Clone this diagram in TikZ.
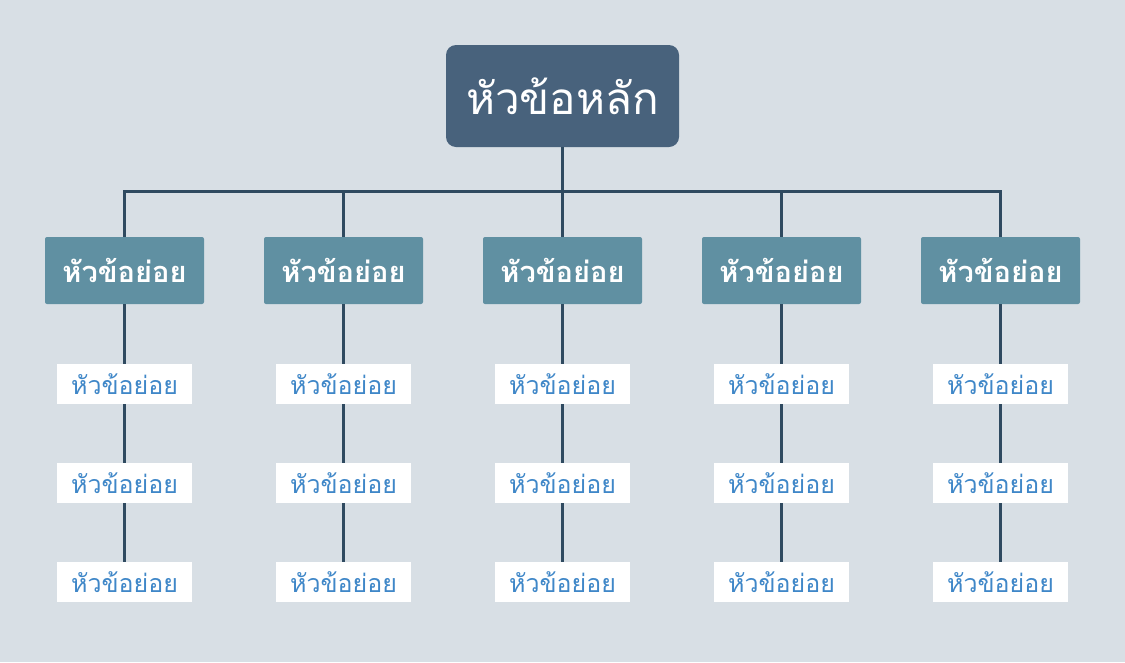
\documentclass[tikz,border=0pt]{standalone}
\usepackage{fontspec}
\newfontfamily\thaifont[Script=Thai]{Loma}
\definecolor{bg}{HTML}{D8DFE5}
\definecolor{topc}{HTML}{48627C}
\definecolor{subc}{HTML}{6090A2}
\definecolor{linec}{HTML}{2F4A60}
\definecolor{leaft}{HTML}{3F87C8}
\tikzset{
  topbox/.style={fill=topc, rounded corners=10pt, minimum width=233pt, minimum height=102pt, text=white, font=\thaifont\fontsize{44}{48}\selectfont, inner sep=0pt},
  subbox/.style={fill=subc, rounded corners=2pt, minimum width=159pt, minimum height=67pt, text=white, font=\thaifont\bfseries\fontsize{29}{33}\selectfont, inner sep=0pt},
  leafbox/.style={fill=white, minimum width=135pt, minimum height=40pt, text=leaft, font=\thaifont\fontsize{25}{29}\selectfont, inner sep=0pt},
  conn/.style={draw=linec, line width=3pt}
}
\begin{document}
\begin{tikzpicture}[x=1pt,y=-1pt]
\fill[bg] (0,0) rectangle (1125,662);
\node[topbox] (top) at (562.5,96) {หัวข้อหลัก};
\coordinate (bus) at (562.5,191);
\draw[conn] (top.south) -- (bus);
\foreach \i/\x in {1/124.5,2/343.5,3/562.5,4/781.5,5/1000.5}{
  \coordinate (b\i) at (\x,191);
  \node[subbox] (s\i) at (\x,270.5) {หัวข้อย่อย};
  \node[leafbox] (l\i a) at (\x,384) {หัวข้อย่อย};
  \node[leafbox] (l\i b) at (\x,483) {หัวข้อย่อย};
  \node[leafbox] (l\i c) at (\x,582) {หัวข้อย่อย};
  \draw[conn] (b\i) -- (s\i.north);
  \draw[conn] (s\i.south) -- (l\i a.north);
  \draw[conn] (l\i a.south) -- (l\i b.north);
  \draw[conn] (l\i b.south) -- (l\i c.north);
}
\draw[conn, line cap=rect] (b1) -- (b5);
\end{tikzpicture}
\end{document}
